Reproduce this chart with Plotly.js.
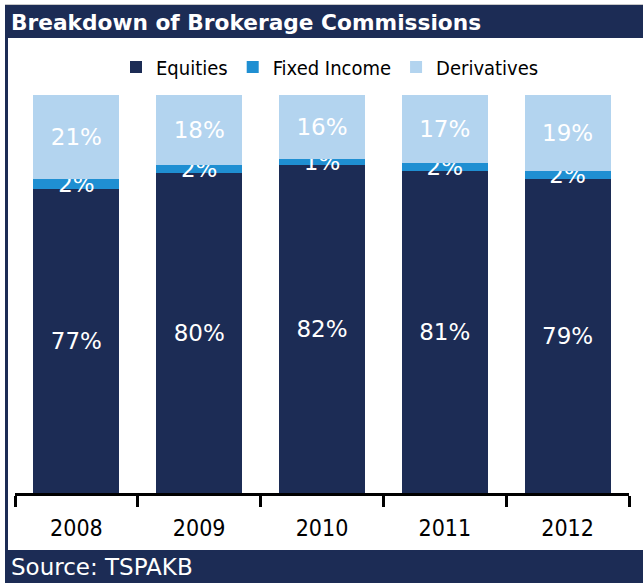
<!DOCTYPE html>
<html>
<head>
<meta charset="utf-8">
<script src="https://cdn.plot.ly/plotly-3.0.1.min.js"></script>
<style>
html,body{margin:0;padding:0;background:#fff;}
#chart{width:643px;height:583px;}
</style>
</head>
<body>
<div id="chart"></div>
<script>
const years = ["2008", "2009", "2010", "2011", "2012"];
const equities = [76.4, 80.3, 82.4, 80.9, 78.9];
const fixedIncome = [2.5, 2.1, 1.5, 2.0, 2.0];
const derivatives = [21.1, 17.6, 16.1, 17.1, 19.1];
const equitiesLabels = ["77%", "80%", "82%", "81%", "79%"];
const fixedIncomeLabels = ["2%", "2%", "1%", "2%", "2%"];
const derivativesLabels = ["21%", "18%", "16%", "17%", "19%"];

const NAVY = "#1c2c55";
const BLUE = "#1f8fd2";
const LIGHT = "#b3d4ef";
const labelFont = {family: "DejaVu Sans", size: 23, color: "#ffffff"};

function barTrace(name, y, text, color) {
  return {
    type: "bar", name: name, x: years, y: y, text: text,
    textposition: "inside", insidetextanchor: "middle", textangle: 0,
    insidetextfont: labelFont, constraintext: "none",
    marker: {color: color, line: {width: 0}},
    hoverinfo: "skip", cliponaxis: false
  };
}

const data = [
  barTrace("Equities", equities, equitiesLabels, NAVY),
  barTrace("Fixed Income", fixedIncome, fixedIncomeLabels, BLUE),
  barTrace("Derivatives", derivatives, derivativesLabels, LIGHT)
];

// plot area: x 15..629 px, y 95..493 px
const L = 15, R = 629, T = 95, B = 493;
const px = v => (v - L) / (R - L);
const py = v => (B - v) / (B - T);

const layout = {
  width: 643, height: 583,
  margin: {l: L, r: 643 - R, t: T, b: 583 - B, pad: 0},
  paper_bgcolor: "#ffffff", plot_bgcolor: "rgba(0,0,0,0)",
  barmode: "stack", bargap: 0.30,
  showlegend: true,
  uniformtext: {mode: "show", minsize: 23},
  title: {
    text: "<b>Breakdown of Brokerage Commissions</b>",
    font: {family: "DejaVu Sans", size: 21.7, color: "#ffffff"},
    xref: "container", yref: "container",
    x: 11 / 643, xanchor: "left", y: 1 - 22 / 583, yanchor: "middle"
  },
  legend: {
    orientation: "h", x: px(330), xanchor: "center", y: py(67), yanchor: "middle",
    font: {family: "DejaVu Sans Condensed", size: 20, color: "#000000"},
    traceorder: "normal", itemclick: false, itemdoubleclick: false
  },
  xaxis: {
    type: "category", showline: true, linecolor: "#000000", linewidth: 2.5,
    ticks: "outside", tickson: "boundaries", ticklen: 11, tickwidth: 3, tickcolor: "#000000",
    ticklabelstandoff: 13,
    tickfont: {family: "DejaVu Sans Condensed", size: 23, color: "#000000"},
    showgrid: false, zeroline: false, fixedrange: true
  },
  yaxis: {range: [0, 100], visible: false, showgrid: false, zeroline: false, fixedrange: true},
  shapes: [
    {type: "rect", xref: "paper", yref: "paper", x0: px(5), x1: px(643), y0: py(38), y1: py(5),
     fillcolor: NAVY, line: {width: 0}, layer: "below"},
    {type: "rect", xref: "paper", yref: "paper", x0: px(5), x1: px(643), y0: py(583), y1: py(550),
     fillcolor: NAVY, line: {width: 0}, layer: "below"},
    {type: "rect", xref: "paper", yref: "paper", x0: px(5), x1: px(8), y0: py(583), y1: py(5),
     fillcolor: NAVY, line: {width: 0}, layer: "below"},
    {type: "line", xref: "paper", yref: "paper", x0: px(5), x1: px(643), y0: py(4.5), y1: py(4.5),
     line: {color: "#c8c8c8", width: 1}, layer: "below"}
  ],
  annotations: [
    {text: "Source: TSPAKB", xref: "paper", yref: "paper", x: px(9), y: py(567),
     xanchor: "left", yanchor: "middle", showarrow: false,
     font: {family: "DejaVu Sans", size: 23, color: "#ffffff"}}
  ]
};

Plotly.newPlot("chart", data, layout, {displayModeBar: false, staticPlot: true});
</script>
</body>
</html>
